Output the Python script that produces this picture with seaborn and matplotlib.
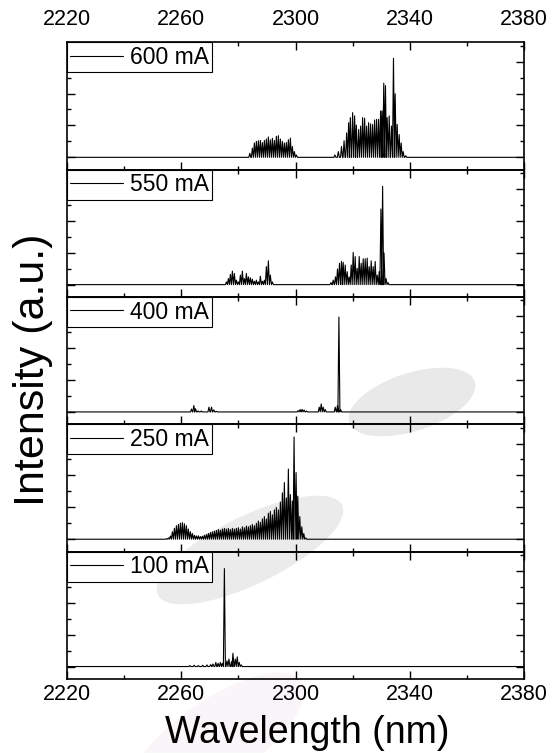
import numpy as np
import pandas as pd
import seaborn as sns
import matplotlib.pyplot as plt
from matplotlib.patches import Ellipse
from matplotlib.ticker import MultipleLocator
from matplotlib.transforms import IdentityTransform

# drive currents, top panel first
currents = ['600 mA', '550 mA', '400 mA', '250 mA', '100 mA']

# longitudinal mode peaks: wavelength (nm) and normalised height
wl_600 = [2284.0, 2284.9, 2285.6, 2286.3, 2287.0, 2287.7, 2288.4, 2289.1, 2289.8, 2290.5, 2291.2, 2291.9,
          2292.6, 2293.3, 2294.0, 2294.7, 2295.4, 2296.1, 2296.8, 2297.5, 2298.2, 2298.9, 2299.6, 2300.3,
          2313.8, 2315.0, 2316.1, 2317.0, 2317.9, 2318.6, 2319.2, 2320.0, 2320.7, 2321.3, 2322.1, 2322.8,
          2323.5, 2324.2, 2324.9, 2325.6, 2326.3, 2327.0, 2327.7, 2328.4, 2329.1, 2329.8, 2330.3, 2330.9,
          2331.5, 2332.1, 2332.8, 2333.6, 2334.3, 2334.9, 2335.6, 2336.3, 2337.0, 2337.7, 2338.6]
h_600 = [0.026, 0.058, 0.09, 0.10, 0.104, 0.106, 0.093, 0.106, 0.115, 0.128, 0.11, 0.12,
         0.106, 0.132, 0.136, 0.115, 0.10, 0.09, 0.093, 0.11, 0.12, 0.068, 0.036, 0.015,
         0.015, 0.036, 0.068, 0.104, 0.153, 0.217, 0.249, 0.28, 0.26, 0.202, 0.175, 0.196,
         0.249, 0.245, 0.196, 0.217, 0.21, 0.206, 0.234, 0.238, 0.238, 0.291, 0.291, 0.465,
         0.45, 0.249, 0.26, 0.196, 0.62, 0.398, 0.206, 0.143, 0.09, 0.036, 0.01]

wl_550 = [2275.8, 2276.5, 2277.2, 2277.9, 2278.6, 2279.3, 2280.0, 2280.7, 2281.4, 2282.1, 2282.8, 2283.5,
          2284.2, 2284.9, 2285.6, 2286.3, 2287.0, 2287.7, 2288.4, 2289.1, 2289.8, 2290.5, 2291.2, 2291.9,
          2312.4, 2313.2, 2314.0, 2314.7, 2315.4, 2316.1, 2316.7, 2317.4, 2318.1, 2318.8, 2319.5, 2320.2,
          2320.9, 2321.6, 2322.3, 2323.0, 2323.7, 2324.4, 2325.1, 2325.8, 2326.5, 2327.2, 2327.9, 2328.6,
          2329.3, 2329.9, 2330.5, 2331.0, 2331.7, 2332.4]
h_550 = [0.017, 0.038, 0.064, 0.085, 0.07, 0.028, 0.017, 0.06, 0.085, 0.038, 0.07, 0.049,
         0.043, 0.034, 0.021, 0.028, 0.017, 0.053, 0.021, 0.028, 0.113, 0.149, 0.06, 0.017,
         0.013, 0.028, 0.049, 0.098, 0.134, 0.145, 0.14, 0.123, 0.081, 0.049, 0.123, 0.202,
         0.176, 0.102, 0.176, 0.134, 0.162, 0.162, 0.166, 0.113, 0.149, 0.113, 0.145, 0.06,
         0.081, 0.474, 0.616, 0.198, 0.038, 0.013]

wl_400 = [2263.6, 2264.4, 2265.0, 2265.9, 2267.0, 2269.7, 2270.6, 2271.4, 2272.3, 2300.9, 2301.6,
          2302.3, 2303.0, 2303.8, 2308.3, 2309.0, 2309.7, 2310.4, 2313.9, 2314.7, 2315.2, 2315.8]
h_400 = [0.018, 0.04, 0.02, 0.006, 0.006, 0.03, 0.03, 0.013, 0.004, 0.008, 0.015,
         0.016, 0.012, 0.006, 0.03, 0.05, 0.03, 0.015, 0.03, 0.04, 0.595, 0.015]

wl_250 = [2254.8, 2255.5, 2256.2, 2256.9, 2257.6, 2258.3, 2259.0, 2259.7, 2260.4, 2261.1,
          2261.8, 2262.5, 2263.2, 2263.9, 2264.6, 2265.3, 2266.0, 2266.7, 2267.4, 2268.1,
          2268.8, 2269.5, 2270.2, 2270.9, 2271.6, 2272.3, 2273.0, 2273.7, 2274.4, 2275.1,
          2275.8, 2276.5, 2277.2, 2277.9, 2278.6, 2279.3, 2280.0, 2280.7, 2281.4, 2282.1,
          2282.8, 2283.5, 2284.2, 2284.9, 2285.6, 2286.3, 2287.0, 2287.7, 2288.4, 2289.1,
          2289.8, 2290.5, 2291.2, 2291.9, 2292.6, 2293.3, 2294.0, 2294.7, 2295.4, 2296.1,
          2296.8, 2297.5, 2298.2, 2298.9, 2299.5, 2300.2, 2300.8, 2301.5, 2302.2, 2302.9,
          2303.6]
h_250 = [0.004, 0.008, 0.02, 0.047, 0.068, 0.085, 0.093, 0.101, 0.104, 0.097,
         0.085, 0.064, 0.047, 0.036, 0.025, 0.021, 0.021, 0.017, 0.019, 0.025,
         0.03, 0.036, 0.042, 0.047, 0.051, 0.055, 0.061, 0.057, 0.064, 0.068,
         0.064, 0.068, 0.061, 0.068, 0.064, 0.068, 0.072, 0.064, 0.078, 0.072,
         0.083, 0.078, 0.085, 0.093, 0.085, 0.10, 0.114, 0.106, 0.127, 0.142,
         0.127, 0.163, 0.174, 0.153, 0.184, 0.199, 0.184, 0.233, 0.291, 0.355,
         0.259, 0.44, 0.28, 0.238, 0.641, 0.418, 0.27, 0.142, 0.078, 0.036,
         0.008]

wl_100 = [2263.0, 2264.5, 2266.0, 2267.5, 2269.0, 2270.3, 2271.1, 2272.1, 2272.9, 2273.7,
          2274.4, 2275.1, 2276.0, 2276.7, 2277.6, 2278.1, 2278.9, 2279.6, 2280.3, 2281.0]
h_100 = [0.006, 0.008, 0.006, 0.008, 0.01, 0.012, 0.016, 0.026, 0.02, 0.026,
         0.02, 0.614, 0.036, 0.047, 0.03, 0.083, 0.047, 0.061, 0.026, 0.01]

spectra = [(wl_600, h_600), (wl_550, h_550), (wl_400, h_400), (wl_250, h_250), (wl_100, h_100)]

x_lim = (2220, 2380)
x_ticks = [2220, 2260, 2300, 2340, 2380]


def trace(wl, h, half=0.35):
    # each mode as a narrow line on a flat baseline
    xs = [x_lim[0]]
    ys = [0.0]
    for w, v in zip(wl, h):
        xs += [w - half, w, w + half]
        ys += [0.0, v, 0.0]
    xs.append(x_lim[1])
    ys.append(0.0)
    return pd.DataFrame({'wl': xs, 'I': ys})


sns.set_theme(style='ticks')
plt.rcParams['font.family'] = ['Liberation Sans', 'DejaVu Sans']
plt.rcParams['text.color'] = 'black'
plt.rcParams['axes.labelcolor'] = 'black'
plt.rcParams['xtick.color'] = 'black'
plt.rcParams['ytick.color'] = 'black'

fig, axes = plt.subplots(5, 1, figsize=(5.51, 7.53), dpi=100, sharex=True)
fig.subplots_adjust(left=0.1216, right=0.951, top=0.9436, bottom=0.0983, hspace=0)

# grey blobs in the background of the original scan
for (cx, cy, w, hh, ang, col) in [(412, 351, 132, 58, 18, '#e9e9e9'),
                                   (250, 203, 205, 68, 26, '#ebebeb'),
                                   (215, 12, 210, 80, 35, '#f9f5f9')]:
    fig.add_artist(Ellipse((cx, cy), w, hh, angle=ang, color=col, lw=0,
                           transform=IdentityTransform(), zorder=-5))

for ax, cur, (wl, h) in zip(axes, currents, spectra):
    ax.set_facecolor('none')
    df = trace(wl, h)
    sns.lineplot(data=df, x='wl', y='I', ax=ax, color='black', lw=0.8,
                 sort=False, estimator=None, label=cur)
    ax.set_xlim(*x_lim)
    ax.set_ylim(-0.078, 0.72)
    ax.xaxis.set_major_locator(MultipleLocator(40))
    ax.xaxis.set_minor_locator(MultipleLocator(20))
    ax.yaxis.set_major_locator(MultipleLocator(0.2))
    ax.yaxis.set_minor_locator(MultipleLocator(0.1))
    ax.tick_params(axis='both', which='both', direction='in', top=True, right=True,
                   labelleft=False, labelbottom=False, width=1, color='black')
    ax.tick_params(which='major', length=5.5)
    ax.tick_params(which='minor', length=3)
    ax.set_xlabel('')
    ax.set_ylabel('')
    for s in ax.spines.values():
        s.set_linewidth(1.2)
        s.set_color('black')
    leg = ax.legend(loc='upper left', frameon=True, fancybox=False, edgecolor='black',
                    framealpha=1, borderaxespad=0, borderpad=0.15, handlelength=2.3,
                    handletextpad=0.3, fontsize=16.5)
    leg.get_frame().set_linewidth(0.8)

axes[0].tick_params(axis='x', labeltop=True, labelsize=15.5, pad=9)
axes[-1].tick_params(axis='x', labelbottom=True, labelsize=15.5, pad=3.5)
axes[-1].set_xticks(x_ticks)
axes[-1].set_xlabel('Wavelength (nm)', fontsize=27)
axes[-1].xaxis.set_label_coords(0.525, -0.285)

fig.text(33 / 551, 1 - 370 / 753, 'Intensity (a.u.)', rotation=90, ha='center', va='center',
         fontsize=31)

fig.savefig('out.png', dpi=100)
